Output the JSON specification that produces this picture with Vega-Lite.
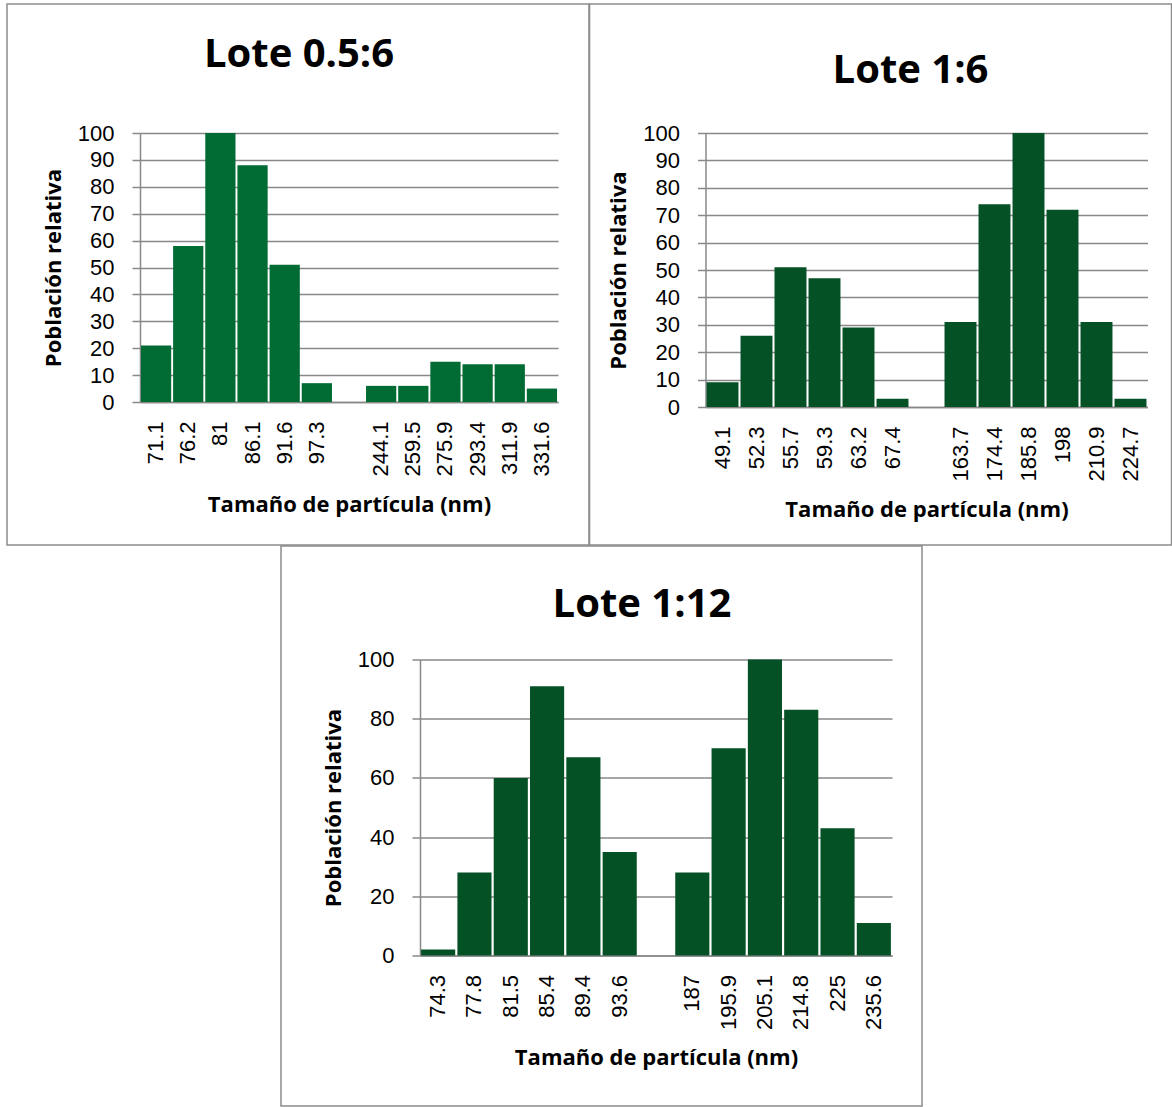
{
  "$schema": "https://vega.github.io/schema/vega-lite/v6.json",
  "autosize": {"type": "pad"},
  "padding": {"left": 6, "top": 3, "right": 0, "bottom": 0},
  "background": "white",
  "datasets": {
    "p1": [
      {"size": "71.1", "pop": 21}, {"size": "76.2", "pop": 58}, {"size": "81", "pop": 100},
      {"size": "86.1", "pop": 88}, {"size": "91.6", "pop": 51}, {"size": "97.3", "pop": 7},
      {"size": "244.1", "pop": 6}, {"size": "259.5", "pop": 6}, {"size": "275.9", "pop": 15},
      {"size": "293.4", "pop": 14}, {"size": "311.9", "pop": 14}, {"size": "331.6", "pop": 5}
    ],
    "p2": [
      {"size": "49.1", "pop": 9}, {"size": "52.3", "pop": 26}, {"size": "55.7", "pop": 51},
      {"size": "59.3", "pop": 47}, {"size": "63.2", "pop": 29}, {"size": "67.4", "pop": 3},
      {"size": "163.7", "pop": 31}, {"size": "174.4", "pop": 74}, {"size": "185.8", "pop": 100},
      {"size": "198", "pop": 72}, {"size": "210.9", "pop": 31}, {"size": "224.7", "pop": 3}
    ],
    "p3": [
      {"size": "74.3", "pop": 2}, {"size": "77.8", "pop": 28}, {"size": "81.5", "pop": 60},
      {"size": "85.4", "pop": 91}, {"size": "89.4", "pop": 67}, {"size": "93.6", "pop": 35},
      {"size": "187", "pop": 28}, {"size": "195.9", "pop": 70}, {"size": "205.1", "pop": 100},
      {"size": "214.8", "pop": 83}, {"size": "225", "pop": 43}, {"size": "235.6", "pop": 11}
    ],
    "one": [{}]
  },
  "spacing": -1.5,
  "vconcat": [
    {
      "spacing": -1.5,
      "hconcat": [
        {
          "width": 418, "height": 269,
          "title": {"text": "Lote 0.5:6", "dx": -50, "offset": -72},
          "layer": [
            {
              "data": {"name": "p1"},
              "mark": {"type": "bar", "color": "#006b33"},
              "encoding": {
                "x": {"field": "size", "type": "nominal", "sort": null,
                  "scale": {"domain": ["71.1","76.2","81","86.1","91.6","97.3"," ","244.1","259.5","275.9","293.4","311.9","331.6"], "paddingInner": 0.06, "paddingOuter": 0.03},
                  "title": "Tamaño de partícula (nm)"},
                "y": {"field": "pop", "type": "quantitative",
                  "scale": {"domain": [0, 100], "nice": false},
                  "axis": {"values": [0,10,20,30,40,50,60,70,80,90,100]},
                  "title": "Población relativa"}
              }
            },
            {
              "data": {"name": "one"},
              "mark": {"type": "rect", "filled": false, "stroke": "#8c8c8c", "strokeWidth": 1.5},
              "encoding": {
                "x": {"datum": -0.3182, "type": "quantitative", "scale": {"domain": [0, 1], "nice": false, "zero": false}, "axis": null},
                "x2": {"datum": 1.0742},
                "y": {"datum": 147.96, "type": "quantitative", "scale": {"domain": [0, 100], "nice": false}, "axis": null},
                "y2": {"datum": -53.16}
              }
            }
          ],
          "resolve": {"scale": {"x": "independent", "y": "independent"}, "axis": {"x": "independent", "y": "independent"}}
        },
        {
          "width": 442, "height": 274,
          "title": {"text": "Lote 1:6", "dx": -16, "offset": -88},
          "layer": [
            {
              "data": {"name": "p2"},
              "mark": {"type": "bar", "color": "#045126"},
              "encoding": {
                "x": {"field": "size", "type": "nominal", "sort": null,
                  "scale": {"domain": ["49.1","52.3","55.7","59.3","63.2","67.4"," ","163.7","174.4","185.8","198","210.9","224.7"], "paddingInner": 0.06, "paddingOuter": 0.03},
                  "title": "Tamaño de partícula (nm)"},
                "y": {"field": "pop", "type": "quantitative",
                  "scale": {"domain": [0, 100], "nice": false},
                  "axis": {"values": [0,10,20,30,40,50,60,70,80,90,100]},
                  "title": "Población relativa"}
              }
            },
            {
              "data": {"name": "one"},
              "mark": {"type": "rect", "filled": false, "stroke": "#8c8c8c", "strokeWidth": 1.5},
              "encoding": {
                "x": {"datum": -0.2624, "type": "quantitative", "scale": {"domain": [0, 1], "nice": false, "zero": false}, "axis": null},
                "x2": {"datum": 1.0543},
                "y": {"datum": 147.08, "type": "quantitative", "scale": {"domain": [0, 100], "nice": false}, "axis": null},
                "y2": {"datum": -50.36}
              }
            }
          ],
          "resolve": {"scale": {"x": "independent", "y": "independent"}, "axis": {"x": "independent", "y": "independent"}}
        }
      ]
    },
    {
      "spacing": 0,
      "hconcat": [
        {
          "width": 140, "height": 10,
          "data": {"values": []},
          "mark": "rule",
          "encoding": {}
        },
        {
          "width": 472, "height": 296,
          "title": {"text": "Lote 1:12", "dx": -14, "offset": -80},
          "layer": [
            {
              "data": {"name": "p3"},
              "mark": {"type": "bar", "color": "#045126"},
              "encoding": {
                "x": {"field": "size", "type": "nominal", "sort": null,
                  "scale": {"domain": ["74.3","77.8","81.5","85.4","89.4","93.6"," ","187","195.9","205.1","214.8","225","235.6"], "paddingInner": 0.06, "paddingOuter": 0.03},
                  "title": "Tamaño de partícula (nm)"},
                "y": {"field": "pop", "type": "quantitative",
                  "scale": {"domain": [0, 100], "nice": false},
                  "axis": {"values": [0,20,40,60,80,100]},
                  "title": "Población relativa"}
              }
            },
            {
              "data": {"name": "one"},
              "mark": {"type": "rect", "filled": false, "stroke": "#8c8c8c", "strokeWidth": 1.5},
              "encoding": {
                "x": {"datum": -0.2945, "type": "quantitative", "scale": {"domain": [0, 1], "nice": false, "zero": false}, "axis": null},
                "x2": {"datum": 1.0636},
                "y": {"datum": 138.34, "type": "quantitative", "scale": {"domain": [0, 100], "nice": false}, "axis": null},
                "y2": {"datum": -50.84}
              }
            }
          ],
          "resolve": {"scale": {"x": "independent", "y": "independent"}, "axis": {"x": "independent", "y": "independent"}}
        }
      ]
    }
  ],
  "config": {
    "view": {"stroke": null},
    "font": "Open Sans",
    "title": {"font": "Open Sans", "fontSize": 40, "fontWeight": "bold", "color": "#000", "anchor": "middle", "baseline": "alphabetic"},
    "axis": {
      "labelFont": "Liberation Sans", "labelFontSize": 22, "labelColor": "#000",
      "titleFont": "Open Sans", "titleFontSize": 22, "titleFontWeight": "bold", "titleColor": "#000",
      "domainColor": "#888", "domainWidth": 1.5, "tickColor": "#888", "tickWidth": 1.5,
      "gridColor": "#888", "gridWidth": 1.5
    },
    "axisX": {"labelAngle": -90, "ticks": false, "tickSize": 0, "labelPadding": 19, "titlePadding": 18, "grid": false, "zindex": 1},
    "axisY": {"grid": true, "tickSize": 8, "labelPadding": 18, "titlePadding": 12}
  }
}
